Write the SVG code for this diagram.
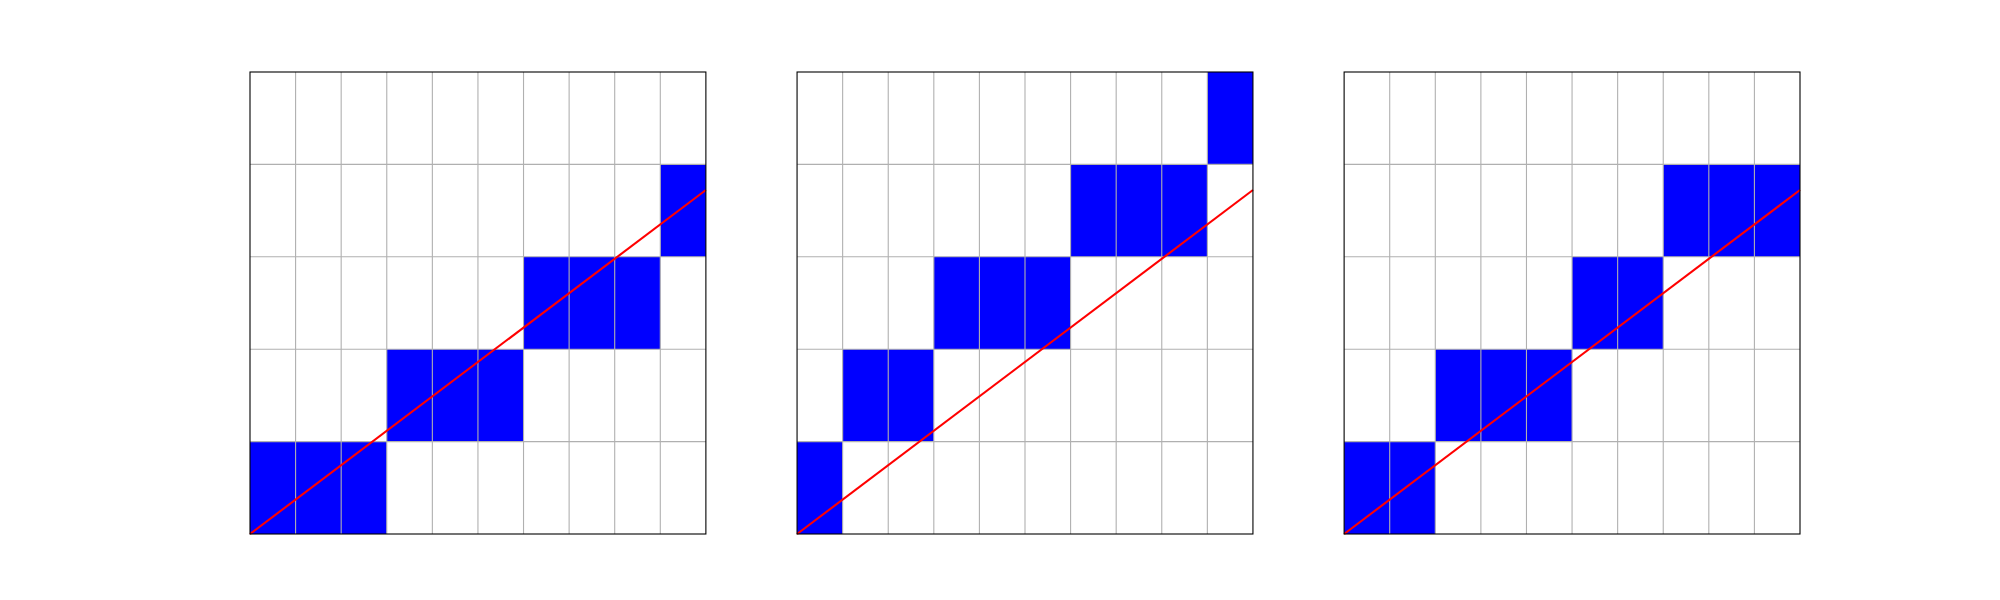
<svg xmlns="http://www.w3.org/2000/svg" xmlns:xlink="http://www.w3.org/1999/xlink" width="2000" height="600" viewBox="0 0 2000 600">
<style>
.cell{fill:#0000ff;stroke:none}
.grid line{stroke:#b0b0b0;stroke-width:1.1}
.frame{fill:none;stroke:#000000;stroke-width:1.1}
.ray{stroke:#ff0000;stroke-width:2.1;fill:none;stroke-linecap:butt}
</style>
<defs>
<g id="grid" class="grid">
<line x1="45.588" y1="0" x2="45.588" y2="462"/>
<line x1="91.176" y1="0" x2="91.176" y2="462"/>
<line x1="136.765" y1="0" x2="136.765" y2="462"/>
<line x1="182.353" y1="0" x2="182.353" y2="462"/>
<line x1="227.941" y1="0" x2="227.941" y2="462"/>
<line x1="273.529" y1="0" x2="273.529" y2="462"/>
<line x1="319.118" y1="0" x2="319.118" y2="462"/>
<line x1="364.706" y1="0" x2="364.706" y2="462"/>
<line x1="410.294" y1="0" x2="410.294" y2="462"/>
<line x1="0" y1="92.4" x2="455.882" y2="92.4"/>
<line x1="0" y1="184.8" x2="455.882" y2="184.8"/>
<line x1="0" y1="277.2" x2="455.882" y2="277.2"/>
<line x1="0" y1="369.6" x2="455.882" y2="369.6"/>
</g>
<rect id="frame" class="frame" x="0" y="0" width="455.882" height="462"/>
</defs>
<rect x="0" y="0" width="2000" height="600" fill="#ffffff"/>

<g id="panel1" transform="translate(250,72)">
<rect class="cell" x="0" y="369.6" width="136.765" height="92.4"/>
<rect class="cell" x="136.765" y="277.2" width="136.765" height="92.4"/>
<rect class="cell" x="273.529" y="184.8" width="136.765" height="92.4"/>
<rect class="cell" x="410.294" y="92.4" width="45.588" height="92.4"/>
<use xlink:href="#grid"/>
</g>

<g id="panel2" transform="translate(797.059,72)">
<rect class="cell" x="0" y="369.6" width="45.588" height="92.4"/>
<rect class="cell" x="45.588" y="277.2" width="91.176" height="92.4"/>
<rect class="cell" x="136.765" y="184.8" width="136.765" height="92.4"/>
<rect class="cell" x="273.529" y="92.4" width="136.765" height="92.4"/>
<rect class="cell" x="410.294" y="0" width="45.588" height="92.4"/>
<use xlink:href="#grid"/>
</g>

<g id="panel3" transform="translate(1344.118,72)">
<rect class="cell" x="0" y="369.6" width="91.176" height="92.4"/>
<rect class="cell" x="91.176" y="277.2" width="136.765" height="92.4"/>
<rect class="cell" x="227.941" y="184.8" width="91.176" height="92.4"/>
<rect class="cell" x="319.118" y="92.4" width="136.765" height="92.4"/>
<use xlink:href="#grid"/>
</g>

<g id="connectors">
<line class="ray" x1="250" y1="534" x2="705.882" y2="190"/>
<line class="ray" x1="797.059" y1="534" x2="1252.941" y2="190"/>
<line class="ray" x1="1344.118" y1="534" x2="1800" y2="190"/>
</g>

<g id="frames">
<use xlink:href="#frame" transform="translate(250,72)"/>
<use xlink:href="#frame" transform="translate(797.059,72)"/>
<use xlink:href="#frame" transform="translate(1344.118,72)"/>
</g>
</svg>
